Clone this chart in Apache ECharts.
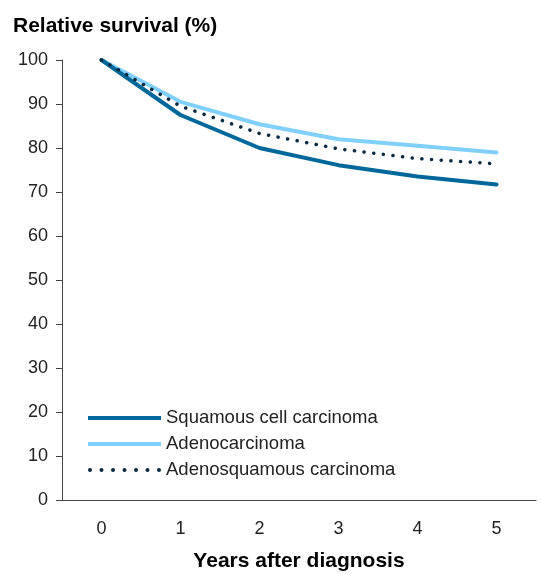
<!DOCTYPE html>
<html>
<head>
<meta charset="utf-8">
<script src="https://cdn.jsdelivr.net/npm/echarts@6/dist/echarts.min.js"></script>
<style>
html,body{margin:0;padding:0;background:#fff;}
#chart{width:541px;height:574px;}
</style>
</head>
<body>
<div id="chart"></div>
<script>
var years = ['0', '1', '2', '3', '4', '5'];
var squamous = [100, 87.5, 80.0, 76.1, 73.5, 71.7];
var adeno = [100, 90.5, 85.4, 82.0, 80.5, 79.0];
var adenosquamous = [100, 89.5, 83.3, 79.8, 77.6, 76.4];
var yTicks = [0, 10, 20, 30, 40, 50, 60, 70, 80, 90, 100];
var seriesNames = ['Squamous cell carcinoma', 'Adenocarcinoma', 'Adenosquamous carcinoma'];

var font = '"Liberation Sans", Arial, sans-serif';

// legend icon shapes
var solidIcon = 'path://M0,0H73V4H0Z';
var dotPath = '';
for (var i = 0; i < 7; i++) {
  var cx = 2 + i * 11.5;
  dotPath += 'M' + (cx - 2) + ',2A2,2,0,1,1,' + (cx + 2) + ',2A2,2,0,1,1,' + (cx - 2) + ',2Z';
}
var dotIcon = 'path://' + dotPath;

var chart = echarts.init(document.getElementById('chart'));
chart.setOption({
  animation: false,
  backgroundColor: '#ffffff',
  title: {
    text: 'Relative survival (%)',
    left: 8, top: 11,
    textStyle: { fontFamily: font, fontSize: 21, fontWeight: 'bold', color: '#000' }
  },
  grid: { left: 62, top: 60, width: 474, height: 440, containLabel: false, outerBoundsMode: 'none' },
  legend: {
    orient: 'vertical',
    left: 83, top: 403,
    itemWidth: 73, itemHeight: 4, itemGap: 6,
    textStyle: { fontFamily: font, fontSize: 18.5, color: '#222', lineHeight: 20 },
    data: [
      { name: seriesNames[0], icon: solidIcon },
      { name: seriesNames[1], icon: solidIcon },
      { name: seriesNames[2], icon: dotIcon }
    ]
  },
  xAxis: {
    type: 'category',
    data: years,
    boundaryGap: true,
    name: 'Years after diagnosis',
    nameLocation: 'middle',
    nameGap: 51,
    nameTextStyle: { fontFamily: font, fontSize: 21, fontWeight: 'bold', color: '#000' },
    axisLine: { lineStyle: { color: '#444', width: 1 } },
    axisTick: { alignWithLabel: true, length: 6, lineStyle: { color: '#444' } },
    axisLabel: { fontFamily: font, fontSize: 18, color: '#222', margin: 20 },
    splitLine: { show: false }
  },
  yAxis: {
    type: 'value',
    min: yTicks[0], max: yTicks[yTicks.length - 1], interval: 10,
    axisLine: { show: true, lineStyle: { color: '#444', width: 1 } },
    axisTick: { show: true, length: 6, lineStyle: { color: '#444' } },
    axisLabel: { fontFamily: font, fontSize: 18, color: '#222', margin: 14 },
    splitLine: { show: false }
  },
  series: [
    {
      name: seriesNames[0], type: 'line', data: squamous,
      symbol: 'none', z: 3,
      lineStyle: { color: '#00679b', width: 4, cap: 'round', join: 'round' },
      itemStyle: { color: '#00679b' }
    },
    {
      name: seriesNames[1], type: 'line', data: adeno,
      symbol: 'none', z: 2,
      lineStyle: { color: '#80d0fb', width: 4, cap: 'round', join: 'round' },
      itemStyle: { color: '#80d0fb' }
    },
    {
      name: seriesNames[2], type: 'line', data: adenosquamous,
      symbol: 'none', z: 4,
      lineStyle: { color: '#0b2a40', width: 3.5, type: [0.1, 9.6], cap: 'round' },
      itemStyle: { color: '#0b2a40' }
    }
  ]
});
</script>
</body>
</html>
